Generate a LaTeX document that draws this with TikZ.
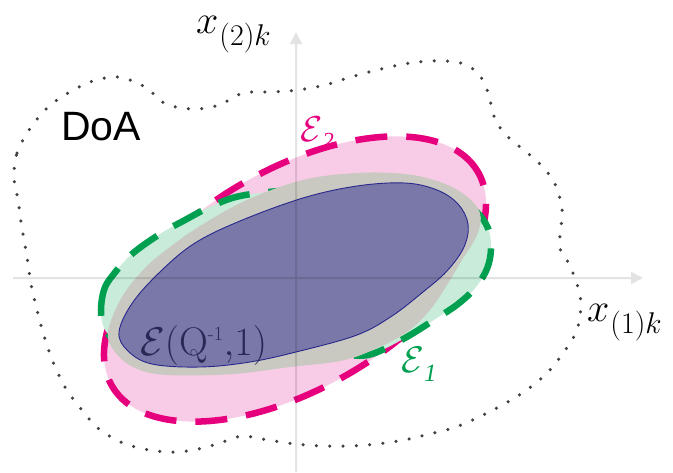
\RequirePackage{fix-cm}
\documentclass[tikz,border=0pt]{standalone}
\usepackage{fontspec}
\newfontfamily\doafont{Liberation Sans}
\newfontfamily\subfont{Liberation Serif}
\usetikzlibrary{arrows.meta}
\definecolor{pinkline}{RGB}{230,0,126}
\definecolor{pinkfill}{RGB}{248,204,230}
\definecolor{greenline}{RGB}{0,160,80}
\definecolor{greenfill}{RGB}{200,236,217}
\definecolor{grayfill}{RGB}{201,200,193}
\definecolor{bluefill}{RGB}{121,120,168}
\definecolor{blueline}{RGB}{40,40,140}
\definecolor{doacol}{RGB}{65,65,65}
\definecolor{labcol}{RGB}{40,40,85}
\tikzset{
  ellline/.style={line width=6.5pt, dash pattern=on 32pt off 19pt},
  doaline/.style={line width=3.5pt, line cap=round, dash pattern=on 0pt off 13.3pt, draw=doacol},
  axisline/.style={line width=2pt, -{Triangle[length=12pt,width=12pt]}},
  lab/.style={inner sep=0pt, anchor=base west}
}
\begin{document}
\begin{tikzpicture}[x=1pt,y=-1pt]
\useasboundingbox (0,0) rectangle (673,472);
% DoA region
\draw[doaline] plot[smooth cycle, tension=0.55] coordinates {
(14,178) (17,153) (29,130) (47,108) (68,93) (93,81) (119,77) (145,87) (166,104)
(193,109) (219,105) (243,93) (271,92) (298,90) (325,85) (351,77) (377,70)
(404,64) (431,61) (457,62) (473,69) (484,82) (490,100) (494,116) (506,135)
(539,163) (555,184) (562,210) (560,235) (560,249) (568,262) (577,284) (581,305)
(577,330) (566,349) (549,371) (528,389) (506,403) (481,416) (456,427) (430,434)
(404,440) (377,444) (350,446) (322,446) (295,444) (268,440) (243,436) (229,440)
(203,448) (176,452) (149,450) (123,443) (99,429) (81,409) (65,387) (53,362)
(44,336) (37,310) (31,284) (27,257) (22,228) (18,200)};
% E2 (pink)
\fill[pinkfill, rotate around={30.4:(295,279)}] (295,279) ellipse [x radius=212pt, y radius=109pt];
\draw[pinkline, ellline, rotate around={30.4:(295,279)}] (295,279) ellipse [x radius=212pt, y radius=109pt];
% E1 (green)
\path[fill=greenfill, draw=greenline, ellline, dash phase=6pt]
 plot[smooth cycle, tension=0.6] coordinates {
(101,312) (104,290) (113,275) (132,254) (160,234) (185,220) (210,207) (240,196)
(290,190) (350,186) (405,186) (448,195) (472,208) (486,224) (491,243) (488,266)
(476,287) (458,304) (437,318) (405,338) (372,354) (345,356) (290,360) (230,364)
(170,362) (134,354) (117,342) (105,330)};
% gray band
\fill[grayfill] plot[smooth cycle, tension=0.6] coordinates {
(108,332) (122,297) (145,268) (170,247) (200,226) (247,200) (303,180) (357,173)
(405,174) (440,182) (465,195) (480,213) (477,235) (462,260) (447,285) (430,310)
(407,332) (373,350) (340,361) (290,367) (233,374) (167,375) (135,368) (115,352)};
% blue ellipse
\filldraw[fill=bluefill, draw=blueline, line width=0.9pt] plot[smooth cycle, tension=0.6] coordinates {
(119,332) (133,302) (162,270) (195,243) (240,221) (303,198) (357,186) (405,183)
(437,190) (458,204) (468,224) (464,247) (447,271) (423,292) (392,316) (357,335)
(300,351) (250,362) (200,367) (152,364) (128,351)};
% axes
\coordinate (hs) at (13,278);
\coordinate (he) at (643,278);
\coordinate (vs) at (296,472);
\coordinate (ve) at (296,32);
\begin{scope}[transparency group, opacity=0.11]
\draw[axisline, black] (hs) -- (he);
\draw[axisline, black] (vs) -- (ve);
\end{scope}
% labels
\node[lab] (lx2) at (196,33) {{\fontsize{40}{44}\selectfont$x$}\kern1pt\raisebox{-12pt}{\fontsize{30}{34}\selectfont$(2)k$}};
\node[lab] (lx1) at (587,321) {{\fontsize{40}{44}\selectfont$x$}\kern1pt\raisebox{-12pt}{\fontsize{30}{34}\selectfont$(1)k$}};
\node[lab] (ldoa) at (61,140) {\fontsize{41}{46}\selectfont\doafont DoA};
\node[lab, text=pinkline] (le2) at (300,141) {{\fontsize{36}{40}\selectfont$\mathcal{E}$}\raisebox{-7pt}{\fontsize{23}{26}\selectfont\subfont\itshape 2}};
\node[lab, text=greenline] (le1) at (401,372) {{\fontsize{37}{40}\selectfont$\mathcal{E}$}\raisebox{-9pt}{\fontsize{25}{28}\selectfont\subfont\itshape 1}};
\node[lab, text=labcol] (leq) at (140,355) {\fontsize{40}{44}\selectfont$\mathcal{E}(\mathrm{Q}^{\mbox{\fontsize{20}{22}\selectfont-1}}{,}1)$};
\end{tikzpicture}
\end{document}
